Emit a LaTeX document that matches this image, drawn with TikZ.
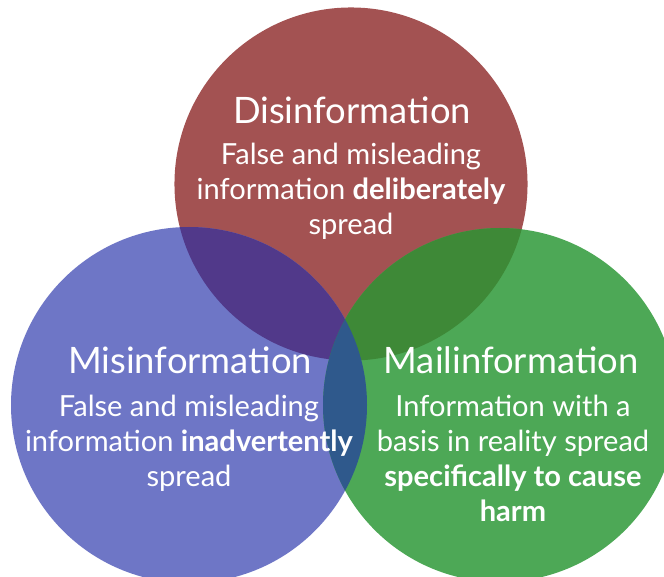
\documentclass[tikz,border=0pt]{standalone}
\usepackage{fontspec}
\setmainfont{Lato}
\definecolor{cred}{HTML}{A35252}
\definecolor{cblue}{HTML}{6E76C6}
\definecolor{cgreen}{HTML}{4DA856}
\definecolor{credblue}{HTML}{51398A}
\definecolor{credgreen}{HTML}{3E8937}
\definecolor{cbluegreen}{HTML}{2F598C}
\tikzset{
  ttl/.style={text=white, font=\fontsize{27.3}{32}\selectfont, inner sep=0pt},
  body/.style={text=white, align=center, font=\fontsize{21.8}{26.25}\selectfont, inner sep=0pt},
}
\begin{document}
\begin{tikzpicture}[x=0.75pt,y=-0.75pt]
\useasboundingbox (0,0) rectangle (664,577);
\clip (0,0) rectangle (664,577);
\coordinate (R) at (351,184);
\coordinate (B) at (189,405);
\coordinate (G) at (500,405);
\def\rr{132.4pt}
\def\rb{133.5pt}
\def\rg{132.75pt}
\fill[cred] (R) circle (\rr);
\fill[cblue] (B) circle (\rb);
\fill[cgreen] (G) circle (\rg);
\begin{scope}
  \clip (R) circle (\rr);
  \fill[credblue] (B) circle (\rb);
  \fill[credgreen] (G) circle (\rg);
\end{scope}
\begin{scope}
  \clip (B) circle (\rb);
  \fill[cbluegreen] (G) circle (\rg);
\end{scope}
\node[ttl] (dt) at (352,110) {Disinformation};
\node[body] (db) at (351,191) {False and misleading\\information \textbf{deliberately}\\spread};
\node[ttl] (mt) at (190,360) {Misinformation};
\node[body] (mb) at (189,443) {False and misleading\\information \textbf{inadvertently}\\spread};
\node[ttl] (gt) at (511,360) {Mailinformation};
\node[body] (gb) at (513,458) {Information with a\\basis in reality spread\\\textbf{specifically to cause}\\\textbf{harm}};
\end{tikzpicture}
\end{document}
